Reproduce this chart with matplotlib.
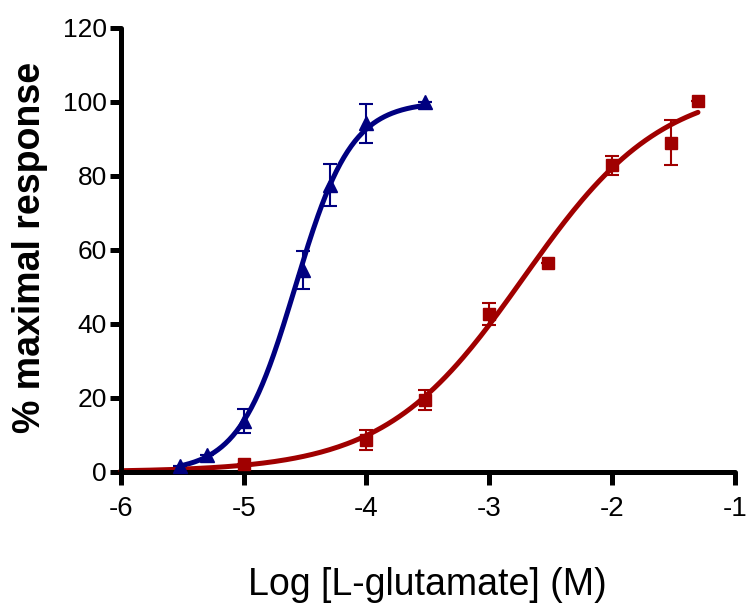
import matplotlib
matplotlib.use('Agg')
import matplotlib.pyplot as plt
import numpy as np

# data (log M, % maximal response)
blue_x = [-5.52, -5.30, -5.00, -4.52, -4.30, -4.00, -3.52]
blue_y = [1.5, 4.6, 13.8, 54.5, 77.5, 94.2, 100.0]
blue_err = [0.0, 0.0, 3.2, 5.2, 5.6, 5.2, 0.0]

red_x = [-5.00, -4.00, -3.52, -3.00, -2.52, -2.00, -1.52, -1.30]
red_y = [2.0, 8.5, 19.5, 42.7, 56.4, 82.8, 89.0, 100.3]
red_err = [0.0, 2.7, 2.7, 3.0, 0.0, 2.6, 6.0, 0.0]

# sigmoidal fit parameters (bottom, top, logEC50, hill slope)
blue_fit = (0.0, 100.0, -4.58, 1.9)
red_fit = (0.0, 105.0, -2.72, 0.77)
blue_range = (-5.52, -3.52)
red_range = (-6.0, -1.30)

xticks = [-6, -5, -4, -3, -2, -1]
yticks = [0, 20, 40, 60, 80, 100, 120]

BLUE = '#000080'
RED = '#a00000'

def hill(x, bottom, top, logec50, h):
	return bottom + (top-bottom)/(1+10**((logec50-x)*h))

plt.rcParams['font.family'] = ['Liberation Sans', 'DejaVu Sans']

fig = plt.figure(figsize=(7.46, 6.05), dpi=100)
ax = fig.add_axes([0.162, 0.22, 0.823, 0.734])

for xs, ys, es, fit, rng, col, mk, ms in [
		(blue_x, blue_y, blue_err, blue_fit, blue_range, BLUE, '^', 10),
		(red_x, red_y, red_err, red_fit, red_range, RED, 's', 8)]:
	xx = np.linspace(rng[0], rng[1], 200)
	ax.plot(xx, hill(xx, *fit), color=col, linewidth=3.6, solid_capstyle='round', zorder=2)
	ax.errorbar(xs, ys, yerr=es, fmt='none', ecolor=col, elinewidth=1.5, capsize=5, capthick=1.5, zorder=3)
	ax.plot(xs, ys, linestyle='none', marker=mk, color=col, markersize=ms, zorder=4)

ax.set_xlim(-6, -1)
ax.set_ylim(0, 120)
ax.set_xticks(xticks)
ax.set_yticks(yticks)
ax.set_xticklabels([str(t) for t in xticks], fontsize=20)
ax.set_yticklabels([str(t) for t in yticks], fontsize=19)
for s in ['top', 'right']:
	ax.spines[s].set_visible(False)
for s in ['left', 'bottom']:
	ax.spines[s].set_linewidth(3.6)
	ax.spines[s].set_capstyle('round')
ax.tick_params(width=3.6, length=8)
ax.tick_params(axis='y', pad=2)
ax.tick_params(axis='x', length=9, pad=8)
for t in ax.xaxis.get_major_ticks() + ax.yaxis.get_major_ticks():
	t.tick1line.set_solid_capstyle('round')
ax.set_ylabel('% maximal response', fontsize=27, fontweight='bold')
ax.yaxis.set_label_coords(-0.119, 0.506)
ax.set_xlabel('Log [L-glutamate] (M)', fontsize=27)
ax.xaxis.set_label_coords(0.5, -0.214)
for line in ax.get_lines():
	line.set_clip_on(False)

plt.savefig('out.png', dpi=100)
